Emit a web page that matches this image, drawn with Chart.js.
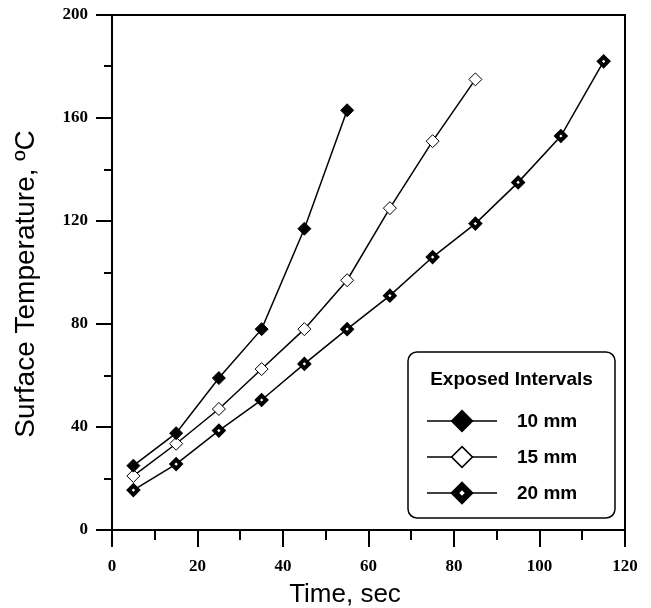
<!DOCTYPE html>
<html>
<head>
<meta charset="utf-8">
<script src="https://cdn.jsdelivr.net/npm/chart.js@4/dist/chart.umd.min.js"></script>
<style>
  html, body { margin: 0; padding: 0; background: #fff; }
  canvas { display: block; }
</style>
</head>
<body>
<canvas id="chart" width="651" height="608"></canvas>
<script>
// Data (time in sec, surface temperature in ºC)
const time10 = [5, 15, 25, 35, 45, 55];
const temp10 = [25, 37.6, 59, 78, 117, 163];

const time15 = [5, 15, 25, 35, 45, 55, 65, 75, 85];
const temp15 = [21, 33.5, 47, 62.5, 78, 97, 125, 151, 175];

const time20 = [5, 15, 25, 35, 45, 55, 65, 75, 85, 95, 105, 115];
const temp20 = [15.5, 25.6, 38.6, 50.5, 64.5, 78, 91, 106, 119, 135, 153, 182];

const seriesLabels = ['10 mm', '15 mm', '20 mm'];
const legendTitle = 'Exposed Intervals';
const xTitle = 'Time, sec';
const yTitle = 'Surface Temperature, ºC';

const xMajor = 20, xMinor = 10;
const yMajor = 40, yMinor = 20;

const toPoints = (xs, ys) => xs.map((x, i) => ({ x: x, y: ys[i] }));

// Outward major/minor ticks plus the frame round the plot area
const frameTicks = {
  id: 'frameTicks',
  afterDraw(chart) {
    const ctx = chart.ctx;
    const area = chart.chartArea;
    const xs = chart.scales.x;
    const ys = chart.scales.y;
    ctx.save();
    ctx.strokeStyle = '#000';
    ctx.lineWidth = 2;
    ctx.lineCap = 'butt';
    ctx.beginPath();
    xs.ticks.forEach(t => {
      const px = Math.round(xs.getPixelForValue(t.value));
      const len = t.value % xMajor === 0 ? 17 : 10;
      ctx.moveTo(px, area.bottom);
      ctx.lineTo(px, area.bottom + len);
    });
    ys.ticks.forEach(t => {
      const py = Math.round(ys.getPixelForValue(t.value));
      const len = t.value % yMajor === 0 ? 16 : 8;
      ctx.moveTo(area.left, py);
      ctx.lineTo(area.left - len, py);
    });
    ctx.stroke();
    ctx.strokeRect(area.left, area.top, area.right - area.left, area.bottom - area.top);

    // axis titles (the x title sits left of centre in the original figure)
    ctx.fillStyle = '#000';
    ctx.textBaseline = 'alphabetic';
    ctx.textAlign = 'center';
    ctx.font = '26px "Liberation Sans", Arial, sans-serif';
    ctx.fillText(xTitle, area.left + 233, area.bottom + 72);
    ctx.save();
    ctx.translate(34, area.top + 269);
    ctx.rotate(-Math.PI / 2);
    ctx.font = '28px "Liberation Sans", Arial, sans-serif';
    ctx.fillText(yTitle, 0, 0);
    ctx.restore();
    ctx.restore();
  }
};

// Boxed legend drawn inside the plot, using each dataset's own point style
const boxLegend = {
  id: 'boxLegend',
  afterDraw(chart) {
    const ctx = chart.ctx;
    const area = chart.chartArea;
    const left = area.right - 217, right = area.right - 10;
    const top = area.bottom - 178, bottom = area.bottom - 12;
    ctx.save();
    ctx.fillStyle = '#fff';
    ctx.strokeStyle = '#000';
    ctx.lineWidth = 1.5;
    ctx.beginPath();
    ctx.roundRect(left, top, right - left, bottom - top, 9);
    ctx.fill();
    ctx.stroke();

    ctx.fillStyle = '#000';
    ctx.textBaseline = 'middle';
    ctx.textAlign = 'center';
    ctx.font = 'bold 19px "Liberation Sans", Arial, sans-serif';
    ctx.fillText(legendTitle, (left + right) / 2, top + 28);

    ctx.textAlign = 'left';
    chart.data.datasets.forEach((ds, i) => {
      const y = top + 69 + i * 36;
      const lx0 = left + 19, lx1 = left + 89, mx = left + 54;
      ctx.strokeStyle = '#000';
      ctx.lineWidth = 1.5;
      ctx.beginPath();
      ctx.moveTo(lx0, y);
      ctx.lineTo(lx1, y);
      ctx.stroke();
      ctx.fillStyle = ds.pointBackgroundColor;
      ctx.strokeStyle = ds.pointBorderColor;
      ctx.lineWidth = ds.pointBorderWidth * 1.6;
      Chart.helpers.drawPoint(ctx, {
        pointStyle: 'rectRot',
        radius: ds.pointRadius * 1.6,
        borderWidth: ds.pointBorderWidth * 1.6,
        rotation: 0
      }, mx, y);
      ctx.fillStyle = '#000';
      ctx.fillText(ds.label, left + 109, y + 1);
    });
    ctx.restore();
  }
};

// keep the plot frame exactly where the layout padding puts it
function noExtraPadding(scale) {
  scale.paddingTop = 0;
  scale.paddingBottom = 0;
  scale.paddingLeft = 0;
  scale.paddingRight = 0;
}

const tickFont = { family: '"Liberation Serif", "Times New Roman", serif', size: 17, weight: 'bold' };

new Chart(document.getElementById('chart'), {
  type: 'line',
  data: {
    datasets: [
      {
        label: seriesLabels[0],
        data: toPoints(time10, temp10),
        borderColor: '#000',
        borderWidth: 1.5,
        pointStyle: 'rectRot',
        pointRadius: 6.5,
        pointBorderWidth: 1,
        pointBackgroundColor: '#000',
        pointBorderColor: '#000'
      },
      {
        label: seriesLabels[1],
        data: toPoints(time15, temp15),
        borderColor: '#000',
        borderWidth: 1.5,
        pointStyle: 'rectRot',
        pointRadius: 6.5,
        pointBorderWidth: 1,
        pointBackgroundColor: '#fff',
        pointBorderColor: '#000'
      },
      {
        label: seriesLabels[2],
        data: toPoints(time20, temp20),
        borderColor: '#000',
        borderWidth: 1.5,
        pointStyle: 'rectRot',
        pointRadius: 4.5,
        pointBorderWidth: 4,
        pointBackgroundColor: '#fff',
        pointBorderColor: '#000'
      }
    ]
  },
  options: {
    responsive: false,
    animation: false,
    layout: { padding: { top: 15, right: 26, left: 0, bottom: 0 } },
    plugins: {
      legend: { display: false },
      tooltip: { enabled: false }
    },
    scales: {
      x: {
        type: 'linear',
        min: 0,
        max: 120,
        afterFit(scale) { scale.height = 78; noExtraPadding(scale); },
        grid: { display: false, drawTicks: false },
        border: { display: false },
        ticks: {
          stepSize: xMinor,
          padding: 26,
          autoSkip: false,
          maxRotation: 0,
          color: '#000',
          font: tickFont,
          callback: v => (v % xMajor === 0 ? String(v) : '')
        }
      },
      y: {
        type: 'linear',
        min: 0,
        max: 200,
        afterFit(scale) { scale.width = 112; noExtraPadding(scale); },
        grid: { display: false, drawTicks: false },
        border: { display: false },
        ticks: {
          stepSize: yMinor,
          padding: 24,
          autoSkip: false,
          color: '#000',
          font: tickFont,
          callback: v => (v % yMajor === 0 ? String(v) : '')
        }
      }
    }
  },
  plugins: [frameTicks, boxLegend]
});
</script>
</body>
</html>
